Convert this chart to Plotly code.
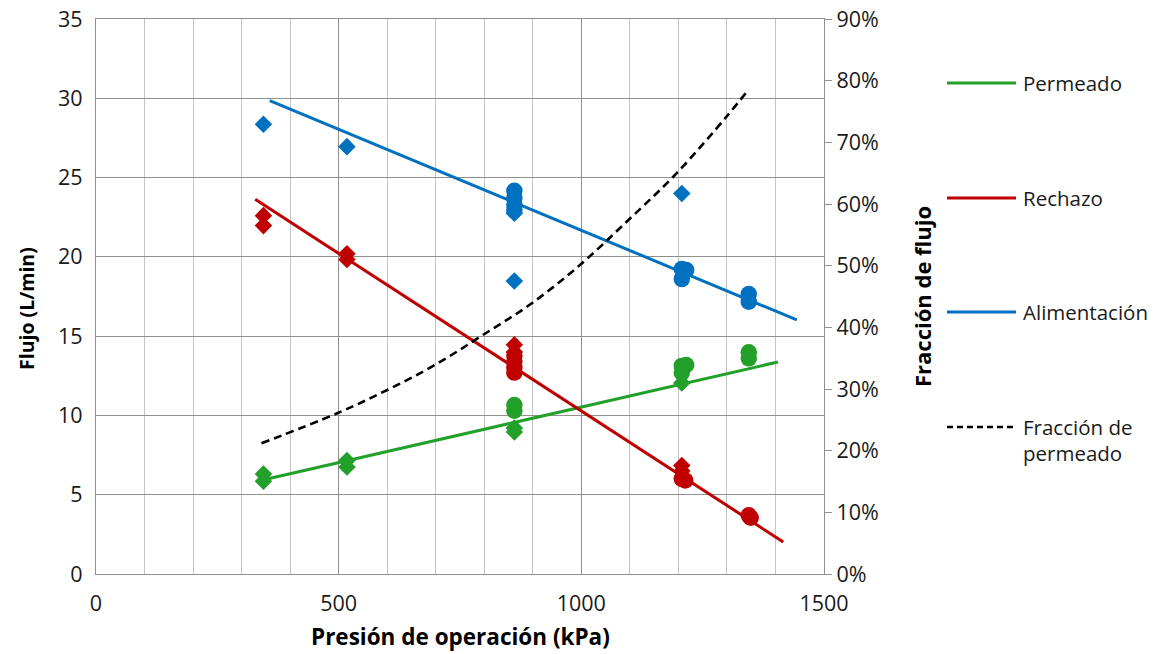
import plotly.graph_objects as go

# ---------------- data ----------------
perm_dia_x = [345, 345, 517, 517, 862, 862, 1207]
perm_dia_y = [6.3, 5.85, 7.15, 6.75, 9.2, 8.96, 12.05]
perm_cir_x = [862, 862, 1207, 1216, 1207, 1345, 1345]
perm_cir_y = [10.65, 10.3, 13.12, 13.18, 12.7, 13.98, 13.6]

rech_dia_x = [345, 345, 517, 517, 862, 862, 1207, 1207]
rech_dia_y = [22.6, 21.97, 20.19, 19.83, 14.45, 14.0, 6.84, 6.5]
rech_cir_x = [862, 862, 862, 862, 1207, 1214, 1345, 1349]
rech_cir_y = [13.77, 13.4, 13.0, 12.7, 6.0, 5.9, 3.7, 3.55]

alim_dia_x = [345, 517, 862, 862, 1207]
alim_dia_y = [28.36, 26.95, 18.48, 22.75, 24.0]
alim_cir_x = [862, 862, 862, 862, 1207, 1216, 1207, 1345, 1345]
alim_cir_y = [24.17, 23.7, 23.3, 22.95, 19.23, 19.17, 18.6, 17.66, 17.17]

perm_trend_x = [330, 1405]
perm_trend_y = [5.83, 13.37]
rech_trend_x = [328, 1416]
rech_trend_y = [23.63, 2.02]
alim_trend_x = [358, 1444]
alim_trend_y = [29.85, 16.02]

frac_x = [341, 498, 599, 698.5, 798, 898, 997, 1097, 1196.5, 1299.5, 1341]
frac_y = [0.212, 0.261, 0.298, 0.339, 0.388, 0.439, 0.501, 0.574, 0.650, 0.742, 0.782]

legend_labels = [["Permeado"], ["Rechazo"], ["Alimentación"], ["Fracción de", "permeado"]]

# ---------------- styling ----------------
GREEN = "#22A02A"
RED = "#C00000"
BLUE = "#0070C0"
FONT = "Open Sans"

W, H = 1156, 654
L, R, T, B = 96, 824, 19, 574  # plot area in pixels

fig = go.Figure()

def line_trace(x, y, color, yaxis="y", dash="solid", width=3, shape="linear"):
    fig.add_trace(go.Scatter(x=x, y=y, mode="lines", yaxis=yaxis,
                             line=dict(color=color, width=width, dash=dash, shape=shape),
                             showlegend=False, hoverinfo="skip"))

def marker_trace(x, y, color, symbol, size):
    fig.add_trace(go.Scatter(x=x, y=y, mode="markers",
                             marker=dict(color=color, symbol=symbol, size=size,
                                         line=dict(width=0)),
                             showlegend=False))

line_trace(perm_trend_x, perm_trend_y, GREEN)
line_trace(rech_trend_x, rech_trend_y, RED)
line_trace(alim_trend_x, alim_trend_y, BLUE)

for (dx, dy, cx, cy, col) in [
    (perm_dia_x, perm_dia_y, perm_cir_x, perm_cir_y, GREEN),
    (rech_dia_x, rech_dia_y, rech_cir_x, rech_cir_y, RED),
    (alim_dia_x, alim_dia_y, alim_cir_x, alim_cir_y, BLUE),
]:
    marker_trace(dx, dy, col, "diamond", 13.5)
    marker_trace(cx, cy, col, "circle", 16.5)

line_trace(frac_x, frac_y, "black", yaxis="y2", dash="8px,5px", width=2.6, shape="spline")

# ---------------- manual legend ----------------
def px2paper(px, py):
    return (px - L) / (R - L), (B - py) / (B - T)

leg_rows = [83, 198, 312, 427]
leg_colors = [GREEN, RED, BLUE, "black"]
leg_dash = ["solid", "solid", "solid", "6px,4px"]
shapes = []
annotations = []
for lines, py, col, dsh in zip(legend_labels, leg_rows, leg_colors, leg_dash):
    x0, y0 = px2paper(947, py)
    x1, _ = px2paper(1016, py)
    shapes.append(dict(type="line", xref="paper", yref="paper", x0=x0, x1=x1, y0=y0, y1=y0,
                       line=dict(color=col, width=3 if dsh == "solid" else 2.6, dash=dsh)))
    for k, txt in enumerate(lines):
        tx, ty = px2paper(1021, py + 26 * k)
        annotations.append(dict(text=txt, xref="paper", yref="paper", x=tx, y=ty,
                                xanchor="left", yanchor="middle", showarrow=False, align="left",
                                font=dict(family=FONT, size=20.5, color="#1a1a1a")))

# axis titles
ax, ay = px2paper(460, 636)
annotations.append(dict(text="<b>Presión de operación (kPa)</b>", xref="paper", yref="paper",
                        x=ax, y=ay, showarrow=False, xanchor="center", yanchor="middle",
                        font=dict(family=FONT, size=22.5, color="black")))
ax, ay = px2paper(26, 309)
annotations.append(dict(text="<b>Flujo (L/min)</b>", xref="paper", yref="paper",
                        x=ax, y=ay, showarrow=False, xanchor="center", yanchor="middle",
                        textangle=-90, font=dict(family=FONT, size=19.5, color="black")))
ax, ay = px2paper(922, 297)
annotations.append(dict(text="<b>Fracción de flujo</b>", xref="paper", yref="paper",
                        x=ax, y=ay, showarrow=False, xanchor="center", yanchor="middle",
                        textangle=-90, font=dict(family=FONT, size=22, color="black")))

tickfont = dict(family=FONT, size=21.5, color="#1a1a1a")

fig.update_layout(
    width=W, height=H,
    margin=dict(l=L, r=W - R, t=T, b=H - B, autoexpand=False),
    paper_bgcolor="white", plot_bgcolor="white",
    showlegend=False,
    shapes=shapes, annotations=annotations,
    xaxis=dict(range=[0, 1500], dtick=500, tick0=0, showgrid=True, automargin=False,
               gridcolor="#8f8f8f", gridwidth=1.3,
               minor=dict(dtick=100, showgrid=True, gridcolor="#c4c4c4", gridwidth=1.3),
               showline=True, linecolor="#8f8f8f", linewidth=1.3, mirror=True,
               zeroline=False, tickfont=tickfont, ticks="", ticklabelstandoff=10),
    yaxis=dict(range=[0, 35], dtick=5, tick0=0, showgrid=True, automargin=False,
               gridcolor="#8f8f8f", gridwidth=1.3,
               showline=True, linecolor="#8f8f8f", linewidth=1.3,
               zeroline=False, tickfont=tickfont, ticks="", ticklabelstandoff=8),
    yaxis2=dict(range=[0, 0.9], dtick=0.1, tick0=0, overlaying="y", side="right",
                automargin=False,
                tickformat=".0%", showgrid=False, zeroline=False,
                showline=True, linecolor="#8f8f8f", linewidth=1.3,
                ticks="outside", ticklen=7, tickcolor="#8f8f8f", tickwidth=1.3,
                tickfont=tickfont),
)

fig.write_html("out.html")
